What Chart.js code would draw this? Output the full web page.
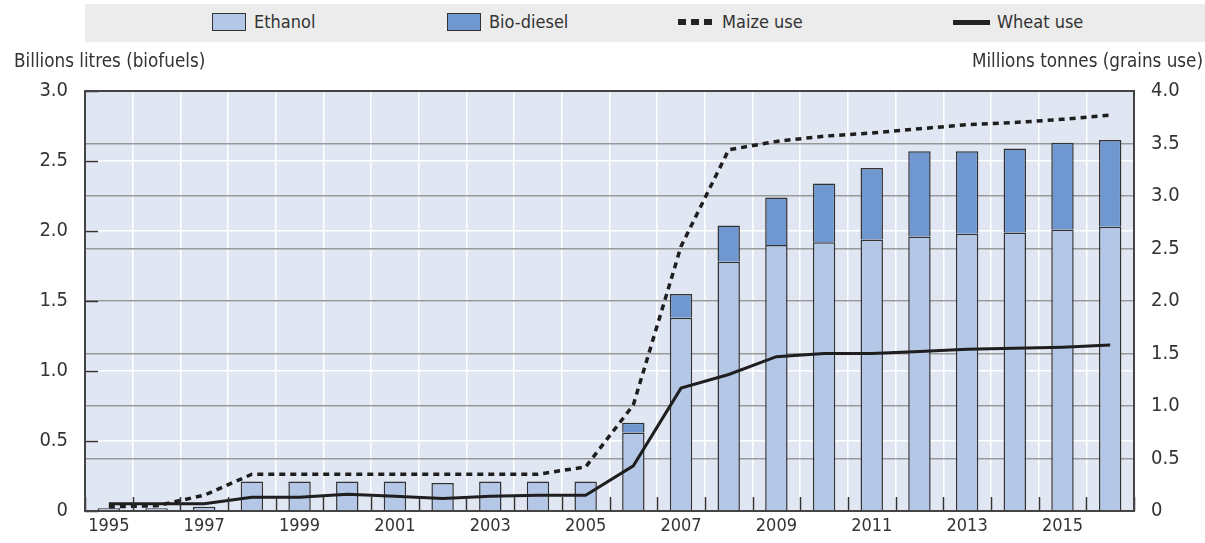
<!DOCTYPE html>
<html>
<head>
<meta charset="utf-8">
<script src="https://cdn.jsdelivr.net/npm/chart.js@4"></script>
<style>
  html, body { margin: 0; padding: 0; background: #fff; }
  #wrap { position: relative; width: 1205px; height: 543px; font-family: "Liberation Sans Narrow", "DejaVu Sans Condensed", "Liberation Sans", sans-serif; color: #333; }
  #c { position: absolute; left: 0; top: 0; }
  .band { position: absolute; left: 85px; top: 4px; width: 1120px; height: 38px; background: #ececec; }
  .lg { position: absolute; top: 12px; height: 20px; font-size: 18px; line-height: 20px; display: flex; align-items: center; }
  .box { width: 32px; height: 16px; border: 1.5px solid #333; margin-right: 8px; }
  .dash { display: flex; gap: 5px; margin-right: 10px; }
  .dash i { display: block; width: 8px; height: 6px; background: #222; }
  .solid { width: 37px; height: 5px; background: #222; margin-right: 7px; }
  .ttl { position: absolute; top: 51px; font-size: 18.7px; line-height: 20px; }
</style>
</head>
<body>
<div id="wrap">
  <canvas id="c" width="1205" height="543"></canvas>
  <div class="band"></div>
  <div class="lg" style="left:212px"><span class="box" style="background:#b4c7e7"></span>Ethanol</div>
  <div class="lg" style="left:447px"><span class="box" style="background:#6f98d0"></span>Bio-diesel</div>
  <div class="lg" style="left:678px"><span class="dash"><i></i><i></i><i></i></span>Maize use</div>
  <div class="lg" style="left:953px"><span class="solid"></span>Wheat use</div>
  <div class="ttl" style="left:14px">Billions litres (biofuels)</div>
  <div class="ttl" style="right:2px">Millions tonnes (grains use)</div>
</div>
<script>
const years = ['1995','1996','1997','1998','1999','2000','2001','2002','2003','2004','2005','2006','2007','2008','2009','2010','2011','2012','2013','2014','2015','2016'];
const ethanol = [0.02,0.02,0.03,0.21,0.21,0.21,0.21,0.20,0.21,0.21,0.21,0.56,1.38,1.78,1.90,1.92,1.94,1.96,1.98,1.99,2.01,2.03];
const biodiesel = [0,0,0,0,0,0,0,0,0,0,0,0.07,0.17,0.26,0.34,0.42,0.51,0.61,0.59,0.60,0.62,0.62];
const maizeUse = [0.04,0.05,0.15,0.35,0.35,0.35,0.35,0.35,0.35,0.35,0.42,1.01,2.52,3.44,3.52,3.57,3.60,3.64,3.68,3.70,3.73,3.77];
const wheatUse = [0.07,0.07,0.07,0.13,0.13,0.16,0.14,0.12,0.14,0.15,0.15,0.43,1.17,1.30,1.47,1.50,1.50,1.52,1.54,1.55,1.56,1.58];
const leftTicks = [0, 0.5, 1.0, 1.5, 2.0, 2.5, 3.0];
const rightTicks = [0, 0.5, 1.0, 1.5, 2.0, 2.5, 3.0, 3.5, 4.0];

const FONT = '"Liberation Sans Narrow", "DejaVu Sans Condensed", "Liberation Sans", sans-serif';
const fmt = v => v === 0 ? '0' : v.toFixed(1);

const decor = {
  id: 'decor',
  beforeDraw(chart) {
    const {ctx, chartArea: a} = chart;
    ctx.save();
    ctx.fillStyle = '#e1e6f3';
    ctx.fillRect(a.left, a.top, a.right - a.left, a.bottom - a.top);
    ctx.restore();
  },
  afterDatasetsDraw(chart) {
    const {ctx, chartArea: a, scales} = chart;
    ctx.save();
    ctx.strokeStyle = '#333';
    ctx.lineWidth = 1.5;
    leftTicks.forEach(v => {
      const y = Math.round(scales.y.getPixelForValue(v)) + 0.5;
      ctx.beginPath(); ctx.moveTo(a.left, y); ctx.lineTo(a.left + 13, y); ctx.stroke();
    });
    for (let i = 0; i <= years.length; i++) {
      const x = Math.round(scales.x.getPixelForValue(i - 0.5)) + 0.5;
      ctx.beginPath(); ctx.moveTo(x, a.bottom); ctx.lineTo(x, a.bottom - 14); ctx.stroke();
    }
    ctx.strokeStyle = '#444';
    ctx.lineWidth = 2;
    ctx.strokeRect(a.left, a.top, a.right - a.left, a.bottom - a.top);
    ctx.restore();
  }
};

new Chart(document.getElementById('c'), {
  data: {
    labels: years,
    datasets: [
      { type: 'line', label: 'Maize use', data: maizeUse, yAxisID: 'y2', borderColor: '#1e1e1e', borderWidth: 3.5, borderDash: [6, 5], pointRadius: 0, tension: 0, order: 0 },
      { type: 'line', label: 'Wheat use', data: wheatUse, yAxisID: 'y2', borderColor: '#1e1e1e', borderWidth: 3, pointRadius: 0, tension: 0, order: 0 },
      { type: 'bar', label: 'Ethanol', data: ethanol, yAxisID: 'y', stack: 's', backgroundColor: '#b4c7e7', borderColor: '#333', borderWidth: 1.5, order: 1, categoryPercentage: 1, barPercentage: 0.47 },
      { type: 'bar', label: 'Bio-diesel', data: biodiesel, yAxisID: 'y', stack: 's', backgroundColor: '#6f98d0', borderColor: '#333', borderWidth: 1.5, order: 1, categoryPercentage: 1, barPercentage: 0.47 }
    ]
  },
  options: {
    responsive: false,
    animation: false,
    layout: { padding: { top: 91, left: 0, right: 0, bottom: 0 } },
    plugins: { legend: { display: false }, tooltip: { enabled: false } },
    scales: {
      x: {
        offset: true,
        grid: { offset: true, color: '#ffffff', lineWidth: 1.5, drawTicks: false },
        border: { display: false },
        ticks: {
          autoSkip: false, maxRotation: 0, padding: 5, color: '#333',
          font: { family: FONT, size: 18 },
          callback: (v, i) => i % 2 === 0 ? years[i] : ''
        },
        afterFit: s => { s.height = 32; }
      },
      y: {
        position: 'left', stacked: true, min: 0, max: 3,
        afterBuildTicks: s => { s.ticks = leftTicks.map(v => ({ value: v })); },
        grid: { color: '#ffffff', lineWidth: 1.5, drawTicks: false },
        border: { display: false },
        ticks: { padding: 17, color: '#333', font: { family: FONT, size: 20 }, callback: v => fmt(v) },
        afterFit: s => { s.width = 85; }
      },
      y2: {
        position: 'right', min: 0, max: 4,
        afterBuildTicks: s => { s.ticks = rightTicks.map(v => ({ value: v })); },
        grid: { color: '#999999', lineWidth: 1.5, drawTicks: false },
        border: { display: false },
        ticks: { padding: 17, color: '#333', font: { family: FONT, size: 20 }, callback: v => fmt(v) },
        afterFit: s => { s.width = 71; }
      }
    }
  },
  plugins: [decor]
});
</script>
</body>
</html>
